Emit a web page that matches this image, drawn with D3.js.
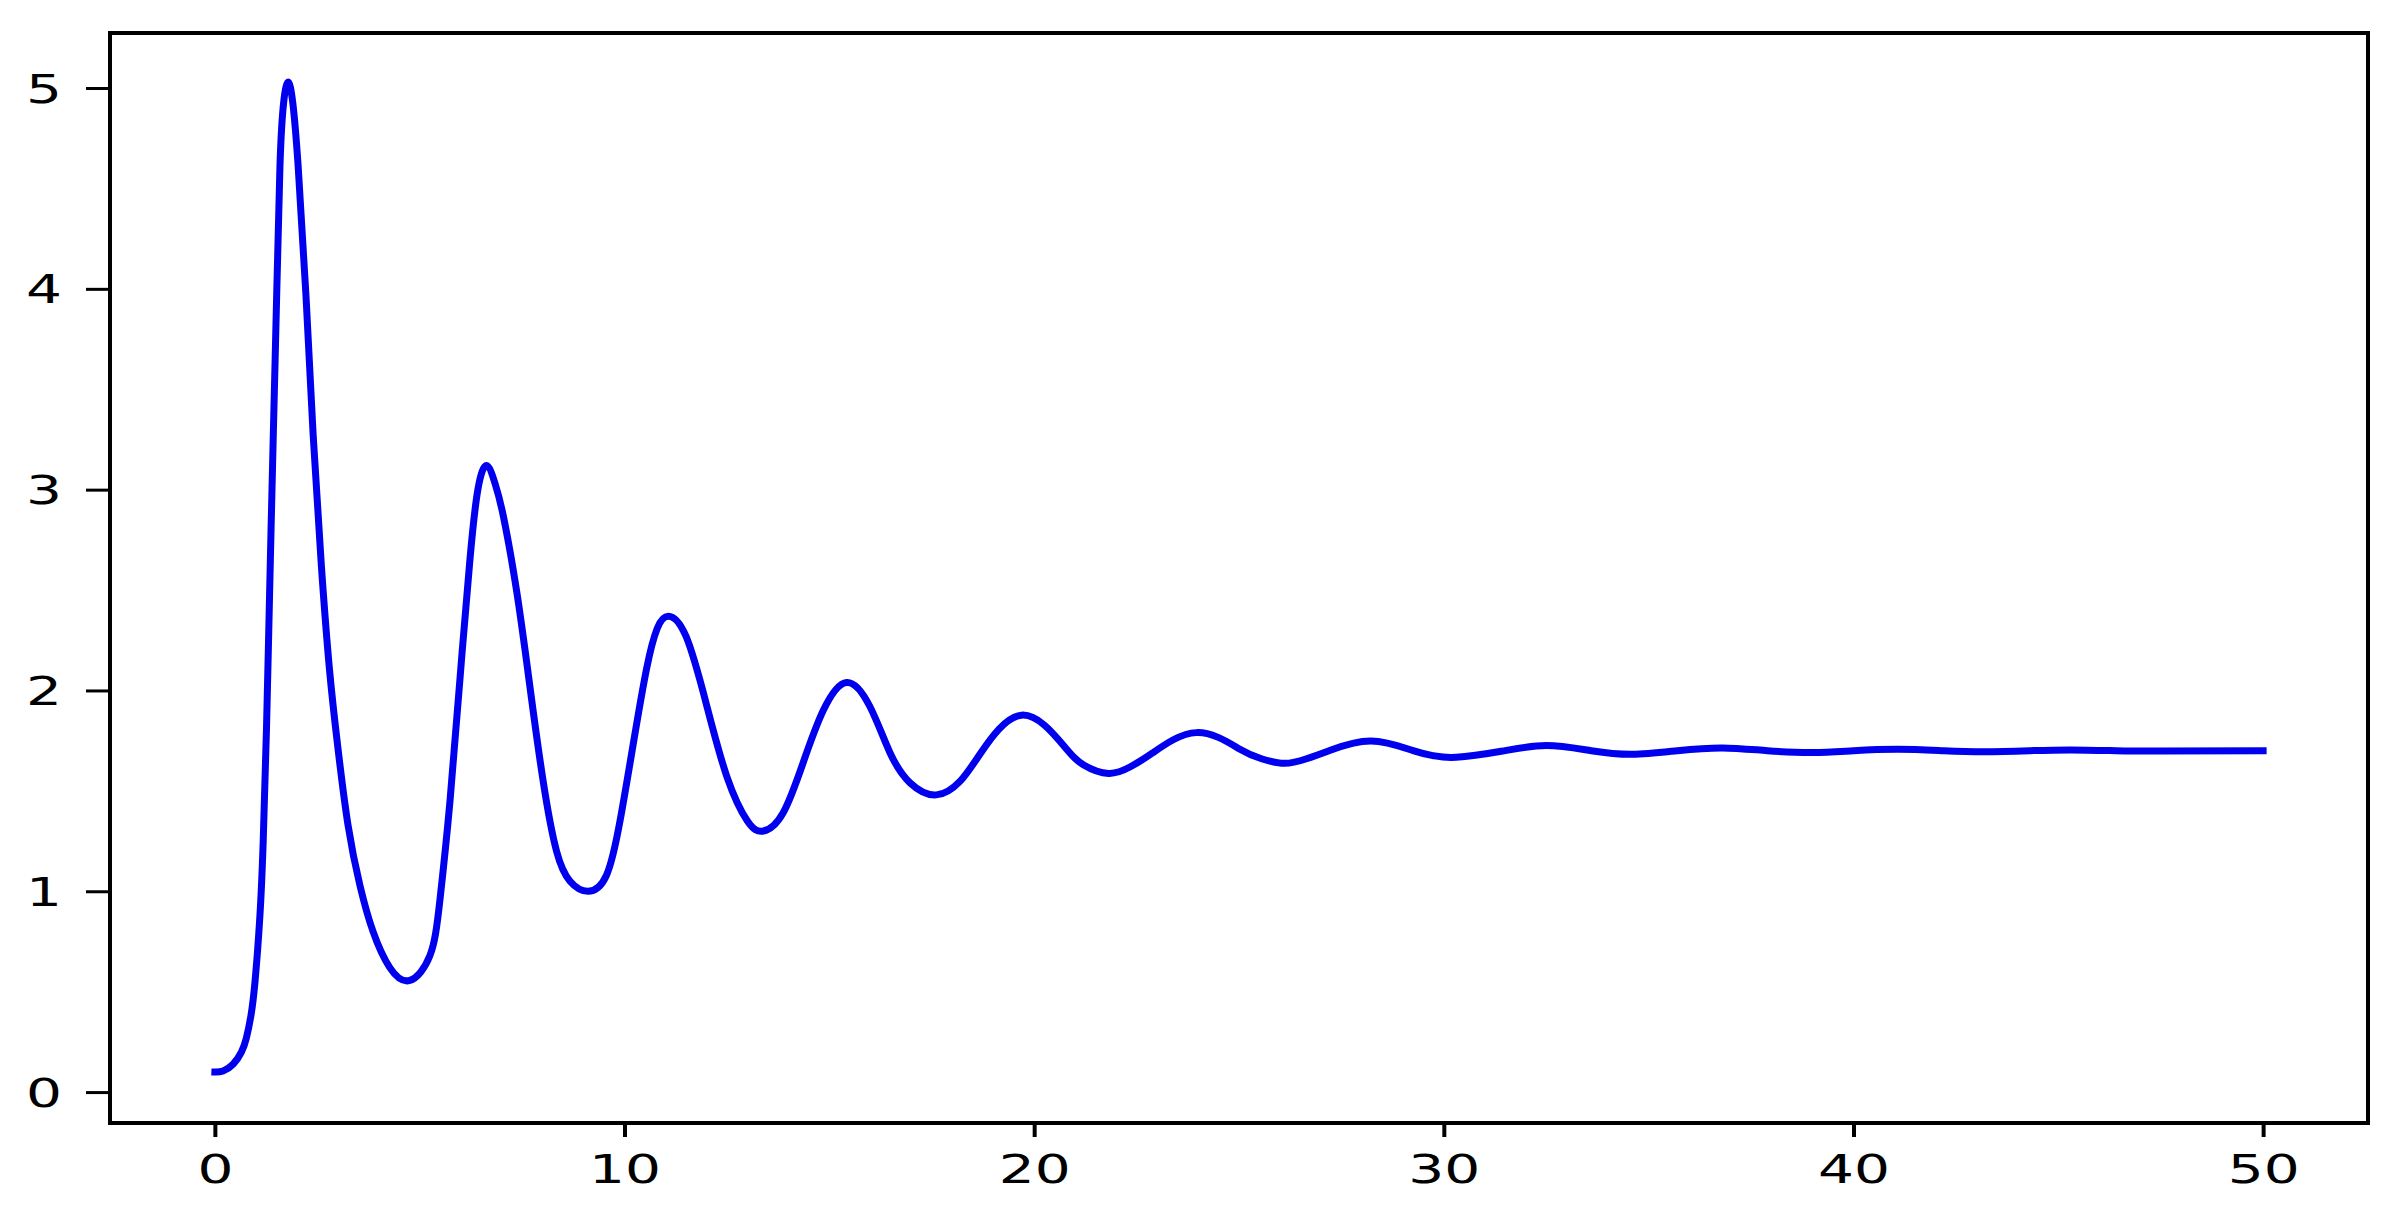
<!DOCTYPE html>
<html>
<head>
<meta charset="utf-8">
<script src="https://cdn.jsdelivr.net/npm/d3@7"></script>
<style>
  html, body { margin: 0; padding: 0; background: #ffffff; }
  svg { display: block; }
</style>
</head>
<body>
<svg id="chart" width="2387" height="1211"></svg>
<script>
// ---- data ----
const xValues = [
  0.00, 0.20, 0.45, 0.65, 0.77, 0.88, 0.98, 1.10, 1.18, 1.26, 1.34, 1.42, 1.51, 1.59, 1.68, 1.79,
  1.90, 2.03, 2.22, 2.40, 2.60, 2.80, 3.00, 3.25, 3.54, 3.86, 4.27, 4.76,
  5.25, 5.49, 5.74, 5.98, 6.23, 6.42, 6.63, 6.84, 7.04, 7.37, 7.69, 8.02, 8.34, 8.67, 9.11,
  9.56, 9.89, 10.21, 10.54, 10.80, 11.07, 11.50, 12.00, 12.50, 13.00, 13.39,
  13.87, 14.36, 14.85, 15.42, 15.99, 16.48, 16.97, 17.61,
  18.20, 18.70, 19.69, 20.70, 21.20, 21.82, 22.35, 22.90, 23.96, 25.00, 25.55, 26.11,
  26.65, 27.20, 28.22, 29.25, 29.75, 30.30, 31.40, 32.50, 33.60, 34.60, 35.70, 36.80,
  37.90, 39.00, 40.00, 41.10, 42.20, 43.20, 44.30, 45.30, 46.40, 47.50, 50.00
];
const yValues = [
  0.100, 0.105, 0.14, 0.20, 0.27, 0.38, 0.55, 0.88, 1.25, 1.81, 2.52, 3.22, 3.98, 4.62, 4.93, 5.03,
  4.93, 4.62, 3.98, 3.27, 2.62, 2.10, 1.72, 1.33, 1.03, 0.80, 0.62, 0.556,
  0.68, 0.95, 1.45, 2.05, 2.66, 3.00, 3.12, 3.03, 2.87, 2.49, 2.02, 1.54, 1.20, 1.05, 1.00,
  1.08, 1.35, 1.73, 2.11, 2.31, 2.37, 2.27, 1.93, 1.57, 1.35, 1.30,
  1.39, 1.64, 1.90, 2.04, 1.92, 1.69, 1.54, 1.48,
  1.55, 1.69, 1.877, 1.73, 1.63, 1.587, 1.62, 1.69, 1.79, 1.71, 1.66, 1.637,
  1.66, 1.70, 1.748, 1.70, 1.675, 1.667, 1.697, 1.726, 1.70, 1.682, 1.70, 1.714,
  1.70, 1.691, 1.70, 1.707, 1.70, 1.695, 1.70, 1.704, 1.70, 1.698, 1.70
];
const xTicks = [0, 10, 20, 30, 40, 50];
const yTicks = [0, 1, 2, 3, 4, 5];
const xTickLabels = ["0", "10", "20", "30", "40", "50"];
const yTickLabels = ["0", "1", "2", "3", "4", "5"];

// ---- layout ----
const plotLeft = 110, plotRight = 2368, plotTop = 33, plotBottom = 1123;
const textStretch = 1.45;
const fontSize = 39;

const svg = d3.select("#chart");
const x = d3.scaleLinear().domain([-2.56, 52.56]).range([plotLeft, plotRight]);
const y = d3.scaleLinear().domain([-0.154, 5.274]).range([plotBottom, plotTop]);

const points = xValues.map((v, i) => [v, yValues[i]]);

// curve
const line = d3.line()
  .x(d => x(d[0]))
  .y(d => y(d[1]))
  .curve(d3.curveNatural);

svg.append("path")
  .datum(points)
  .attr("d", line)
  .attr("fill", "none")
  .attr("stroke", "#0000ee")
  .attr("stroke-width", 7)
  .attr("stroke-linejoin", "round")
  .attr("stroke-linecap", "square");

// x axis
const xAxis = svg.append("g")
  .attr("transform", `translate(0,${plotBottom})`)
  .call(d3.axisBottom(x).tickValues(xTicks).tickFormat((d, i) => xTickLabels[i]).tickSize(14).tickSizeOuter(0));
xAxis.select(".domain").remove();
xAxis.selectAll(".tick line").attr("stroke", "#000").attr("stroke-width", 4);
xAxis.selectAll(".tick text")
  .attr("y", 60).attr("dy", 0)
  .attr("transform", `scale(${textStretch},1)`)
  .attr("fill", "#000")
  .style("font-family", "'DejaVu Sans', sans-serif")
  .style("font-size", fontSize + "px");

// y axis
const yAxis = svg.append("g")
  .attr("transform", `translate(${plotLeft},0)`)
  .call(d3.axisLeft(y).tickValues(yTicks).tickFormat((d, i) => yTickLabels[i]).tickSize(24).tickSizeOuter(0));
yAxis.select(".domain").remove();
yAxis.selectAll(".tick line").attr("stroke", "#000").attr("stroke-width", 3);
yAxis.selectAll(".tick text")
  .attr("x", -48 / textStretch).attr("dy", "0.36em")
  .attr("transform", `scale(${textStretch},1)`)
  .attr("fill", "#000")
  .style("font-family", "'DejaVu Sans', sans-serif")
  .style("font-size", fontSize + "px");

// frame
svg.append("rect")
  .attr("x", x(-2.56)).attr("y", y(5.274))
  .attr("width", x(52.56) - x(-2.56))
  .attr("height", y(-0.154) - y(5.274))
  .attr("fill", "none")
  .attr("stroke", "#000")
  .attr("stroke-width", 4);
</script>
</body>
</html>
